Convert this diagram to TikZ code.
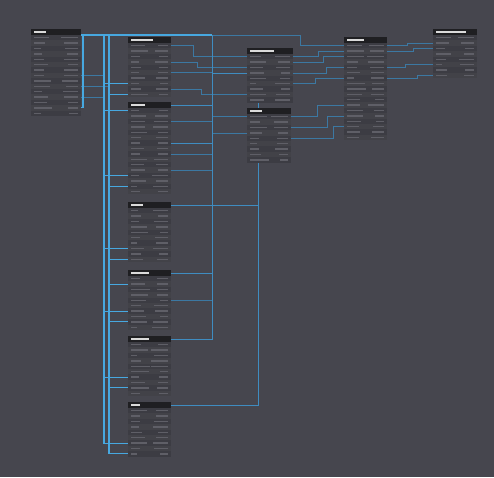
\documentclass[tikz,border=0pt]{standalone}
\usetikzlibrary{calc}
\definecolor{bg}{HTML}{46464E}
\definecolor{rowa}{HTML}{3C3C43}
\definecolor{rowb}{HTML}{424248}
\definecolor{hdr}{HTML}{1F1F22}
\definecolor{txt}{HTML}{5F5F67}
\definecolor{ttl}{HTML}{DADADA}
\definecolor{brightblue}{HTML}{47A8E0}
\definecolor{midblue}{HTML}{3F8CC0}
\definecolor{faintblue}{HTML}{3C78A2}
\pgfdeclarelayer{bgl}
\pgfdeclarelayer{lines}
\pgfsetlayers{bgl,lines,main}
\tikzset{
  tblbody/.style={fill=rowa, inner sep=0pt, outer sep=0pt},
  bl/.style={draw=brightblue, line width=1.05pt},
  mb/.style={draw=midblue, line width=0.8pt},
  fb/.style={draw=faintblue, line width=0.7pt},
}
% name, x, y, width, rows, title width
\newcommand{\dbtable}[6]{%
  \pgfmathsetmacro{\tblh}{6+#5*5.4}
  \node[tblbody, minimum width=#4pt, minimum height=\tblh pt, anchor=north west] (#1) at (#2,#3) {};
  \fill[hdr] (#2,#3) rectangle ++(#4,6);
  \fill[ttl] (#2+3,#3+2.3) rectangle ++(#6,1.5);
  \coordinate (#1-hl) at (#2,#3+3);
  \coordinate (#1-hr) at (#2+#4,#3+3);
  \coordinate (#1-hbr) at (#2+#4,#3+6);
  \foreach \i in {1,...,#5}{
    \pgfmathsetmacro{\ry}{#3+6+(\i-1)*5.4}
    \pgfmathsetmacro{\rmid}{\ry+2.7}
    \pgfmathtruncatemacro{\od}{mod(\i,2)}
    \ifnum\od=1 \def\rc{rowa}\else\def\rc{rowb}\fi
    \fill[\rc] (#2,\ry) rectangle ++(#4,5.4);
    \pgfmathsetmacro{\lw}{6+rnd*13}
    \pgfmathsetmacro{\rw}{8+rnd*9}
    \fill[txt] (#2+3,\rmid-0.65) rectangle ++(\lw,1.3);
    \fill[txt] (#2+#4-3,\rmid-0.65) rectangle ++(-\rw,1.3);
    \coordinate (#1-l\i) at (#2,\rmid);
    \coordinate (#1-r\i) at (#2+#4,\rmid);
  }
}
\begin{document}
\begin{tikzpicture}[x=1pt,y=-1pt]
\pgfmathsetseed{11}
\begin{pgfonlayer}{bgl}
\fill[bg] (0,0) rectangle (494,477);
\end{pgfonlayer}
\useasboundingbox (0,0) rectangle (494,477);

\dbtable{t1}{31}{29}{50}{15}{12}
\dbtable{t2}{128}{37}{43}{10}{22}
\dbtable{t3}{128}{102}{43}{16}{14}
\dbtable{t4}{128}{202}{43}{10}{12}
\dbtable{t5}{128}{270}{43}{10}{18}
\dbtable{t6}{128}{336}{43}{10}{18}
\dbtable{t7}{128}{402}{43}{9}{9}
\dbtable{t8}{247}{48}{46}{9}{24}
\dbtable{t9}{247}{108}{44}{9}{12}
\dbtable{t10}{344}{37}{43}{18}{17}
\dbtable{t11}{433}{29}{44}{8}{30}

\coordinate (te) at (83,0);
\coordinate (ta) at (104,0);
\coordinate (tb) at (109,0);
\coordinate (tc) at (212,0);
\coordinate (td) at (258,0);

\begin{pgfonlayer}{lines}
% faint connectors
\draw[fb] (t1-r8) -- (ta |- t1-r8);
\draw[fb] (t1-r10) -- (tb |- t1-r10);
\draw[fb] (t1-r12) -- (ta |- t1-r12);
\draw[fb] (tc |- t1-hbr) -- (300,35) |- (t10-l1);
\draw[fb] (t2-r1) -- ++(22,0) |- (t8-l1);
\draw[fb] (t2-r4) -- ++(26,0) |- (t8-l3);
\draw[fb] (t2-r6) -- (tc |- t2-r6);
\draw[fb] (t2-r9) -- ++(30,0) |- (t8-l8);
\draw[fb] (t3-r3) -- (tc |- t3-r3);
\draw[fb] (t3-r9) -- (tc |- t3-r9);
\draw[fb] (t3-r12) -- (tc |- t3-r12);
\draw[fb] (tc |- t9-l1) -- (t9-l1);
\draw[fb] (tc |- t9-l4) -- (t9-l4);
\draw[fb] (t5-r5) -- (tc |- t5-r5);
\draw[fb] (t8-r1) -- ++(25,0) |- (t10-l2);
\draw[fb] (t8-r2) -- ++(30,0) |- (t10-l3);
\draw[fb] (t8-r4) -- ++(33,0) |- (t10-l5);
\draw[fb] (t8-r6) -- ++(22,0) |- (t10-l7);
\draw[fb] (t9-r1) -- ++(26,0) |- (t10-l12);
\draw[fb] (t9-r3) -- ++(36,0) |- (t10-l14);
\draw[fb] (t9-r5) -- ++(42,0) |- (t10-l16);
\draw[fb] (t10-r1) -- ++(20,0) |- (t11-l2);
\draw[fb] (t10-r2) -- ++(26,0) |- (t11-l3);
\draw[fb] (t10-r5) -- ++(18,0) |- (t11-l6);
\draw[fb] (t10-r7) -- ++(30,0) |- (t11-l8);
% mid connectors
\draw[mb] (t7-hr) -| (td |- t9.south);
\draw[mb] (t4-hr) -- (td |- t4-hr);
\draw[mb] (td |- t8.south) -- (td |- t9.north);
\draw[mb] (t3-r7) -- (tc |- t3-r7);
\draw[mb] (tc |- t1-hbr) -- (tc |- t6-hr) -- (t6-hr);
\draw[mb] (tc |- t5-hr) -- (t5-hr);
\draw[mb] (tc |- t3-hr) -- (t3-hr);
\draw[mb] (tc |- t8-l4) -- (t8-l4);
% bright connectors
\draw[bl] (t1-hbr) -| (te |- t1-r14) -- (t1-r14);
\draw[bl] (t1-hbr) -- (tc |- t1-hbr);
\draw[bl] (t1-hbr) -| (ta |- t7-l7) -- (t7-l7);
\draw[bl] (t1-hbr) -| (tb |- t7-l9) -- (t7-l9);
\draw[bl] (ta |- t2-l8) -- (t2-l8);
\draw[bl] (tb |- t2-l10) -- (t2-l10);
\draw[bl] (ta |- t3-l1) -- (t3-l1);
\draw[bl] (ta |- t3-l13) -- (t3-l13);
\draw[bl] (tb |- t3-l15) -- (t3-l15);
\draw[bl] (ta |- t4-l8) -- (t4-l8);
\draw[bl] (tb |- t4-l10) -- (t4-l10);
\draw[bl] (tb |- t5-l2) -- (t5-l2);
\draw[bl] (ta |- t5-l7) -- (t5-l7);
\draw[bl] (tb |- t5-l9) -- (t5-l9);
\draw[bl] (ta |- t6-l7) -- (t6-l7);
\draw[bl] (tb |- t6-l9) -- (t6-l9);
\end{pgfonlayer}
\end{tikzpicture}
\end{document}
